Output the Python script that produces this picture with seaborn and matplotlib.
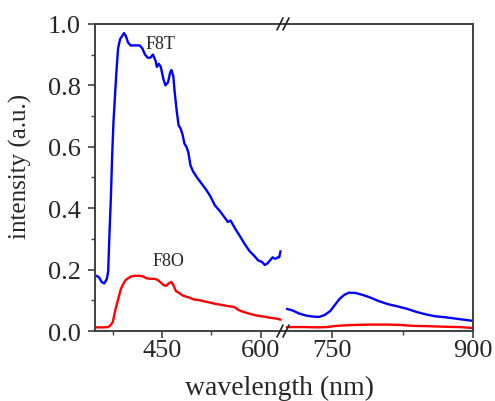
import numpy as np
import pandas as pd
import matplotlib
matplotlib.use('Agg')
import matplotlib.pyplot as plt
import seaborn as sns

# F8T (blue), visible part left of the break
f8t_wl_a = [350, 354, 358, 362, 366, 368, 370, 372, 374, 376, 379, 381, 383, 386, 389, 392,
            395, 398, 402, 410, 416, 420, 424, 428, 432, 436, 440, 442, 445, 448, 452, 455,
            459, 462, 464, 467, 469, 472, 475, 478, 481, 484, 487, 490, 493, 497, 503, 510,
            517, 523, 530, 538, 545, 550, 554, 558, 562, 568, 575, 583, 590, 596, 602, 606,
            610, 614, 618, 622, 626, 628, 630]
f8t_int_a = [0.18, 0.175, 0.16, 0.155, 0.17, 0.195, 0.32, 0.43, 0.57, 0.68, 0.79, 0.86, 0.92,
             0.95, 0.96, 0.97, 0.96, 0.94, 0.93, 0.93, 0.93, 0.92, 0.90, 0.89, 0.89, 0.90, 0.88,
             0.86, 0.87, 0.86, 0.82, 0.80, 0.81, 0.84, 0.85, 0.83, 0.78, 0.72, 0.67, 0.66, 0.64,
             0.61, 0.60, 0.58, 0.54, 0.52, 0.50, 0.48, 0.46, 0.44, 0.41, 0.39, 0.37, 0.355, 0.36,
             0.345, 0.33, 0.31, 0.285, 0.26, 0.245, 0.23, 0.225, 0.215, 0.22, 0.23, 0.24, 0.235,
             0.24, 0.24, 0.26]

# F8O (red), left of the break
f8o_wl_a = [350, 360, 368, 372, 375, 377, 379, 382, 384, 387, 390, 394, 397, 403, 409, 415,
            421, 426, 432, 438, 442, 447, 452, 456, 460, 464, 467, 471, 475, 482, 490, 498,
            508, 518, 528, 538, 548, 555, 560, 565, 570, 577, 585, 595, 605, 615, 625, 630]
f8o_int_a = [0.012, 0.012, 0.013, 0.02, 0.03, 0.05, 0.07, 0.095, 0.11, 0.135, 0.15, 0.165,
             0.17, 0.178, 0.18, 0.18, 0.178, 0.172, 0.17, 0.17, 0.168, 0.16, 0.15, 0.147, 0.155,
             0.16, 0.15, 0.13, 0.125, 0.115, 0.11, 0.103, 0.10, 0.095, 0.09, 0.086, 0.082, 0.08,
             0.078, 0.07, 0.065, 0.06, 0.055, 0.05, 0.047, 0.043, 0.04, 0.037]

# right of the break
f8t_wl_b = [702, 708, 715, 723, 730, 736, 742, 748, 753, 758, 763, 768, 775, 782, 790, 800,
            810, 820, 830, 840, 850, 860, 870, 880, 890, 900]
f8t_int_b = [0.072, 0.067, 0.057, 0.05, 0.047, 0.046, 0.052, 0.065, 0.085, 0.105, 0.118, 0.125,
             0.124, 0.118, 0.11, 0.097, 0.087, 0.08, 0.072, 0.062, 0.054, 0.048, 0.045, 0.041,
             0.037, 0.033]
f8o_wl_b = [702, 720, 735, 745, 752, 760, 775, 790, 810, 822, 835, 850, 870, 885, 900]
f8o_int_b = [0.013, 0.013, 0.012, 0.013, 0.016, 0.018, 0.02, 0.021, 0.021, 0.02, 0.017, 0.016,
             0.014, 0.013, 0.01]

sns.set_style('ticks')
plt.rcParams['font.family'] = ['Liberation Serif', 'DejaVu Serif']
spine_col = '#404040'

fig = plt.figure(figsize=(4.95, 4.02), dpi=100)
ax1 = fig.add_axes([0.192, 0.174, 0.380, 0.764])
ax2 = fig.add_axes([0.572, 0.174, 0.384, 0.764])

sns.lineplot(x=f8t_wl_a, y=f8t_int_a, color='#0000ff', lw=1.7, ax=ax1)
sns.lineplot(x=f8o_wl_a, y=f8o_int_a, color='#ff0000', lw=1.7, ax=ax1)
sns.lineplot(x=f8t_wl_b, y=f8t_int_b, color='#0000ff', lw=1.7, ax=ax2)
sns.lineplot(x=f8o_wl_b, y=f8o_int_b, color='#ff0000', lw=1.7, ax=ax2)

ax1.set_xlim(348, 634)
ax2.set_xlim(698, 900)
for ax in (ax1, ax2):
    ax.set_ylim(0, 1.0)
    for s in ax.spines.values():
        s.set_color(spine_col)
        s.set_linewidth(1.4)
    ax.tick_params(which='major', direction='out', length=5, width=1.2, color=spine_col,
                   labelsize=19, pad=1)
    ax.tick_params(which='minor', direction='out', length=3, width=1.0, color=spine_col)
    ax.set_xlabel('')
    ax.set_ylabel('')

ax1.spines['right'].set_visible(False)
ax2.spines['left'].set_visible(False)
ax1.set_xticks([450, 600])
ax1.set_xticks([375, 525], minor=True)
ax2.set_xticks([750, 900])
ax2.set_xticks([825], minor=True)
ax1.set_yticks([0.0, 0.2, 0.4, 0.6, 0.8, 1.0])
ax1.set_yticks([0.1, 0.3, 0.5, 0.7, 0.9], minor=True)
ax1.set_yticklabels(['0.0', '0.2', '0.4', '0.6', '0.8', '1.0'])
ax1.tick_params(axis='y', pad=5)
ax2.tick_params(axis='y', which='both', left=False, labelleft=False)

ax1.text(448, 0.935, 'F8T', fontsize=13, ha='center', va='center')
ax1.text(460, 0.23, 'F8O', fontsize=13, ha='center', va='center')

fig.text(0.564, 0.035, 'wavelength (nm)', fontsize=20, ha='center', va='center')
fig.text(0.042, 0.587, 'intensity (a.u.)', fontsize=18, ha='center', va='center', rotation=90)

# break marks on the top and bottom spines
W, H = 495.0, 402.0
for yb in (0.938, 0.174):
    for xc in (280.0, 286.0):
        fig.add_artist(plt.Line2D([(xc - 3) / W, (xc + 3) / W], [yb - 6 / H, yb + 6 / H],
                                  transform=fig.transFigure, color='#202020', lw=1.2))

fig.savefig('out.png', dpi=100)
